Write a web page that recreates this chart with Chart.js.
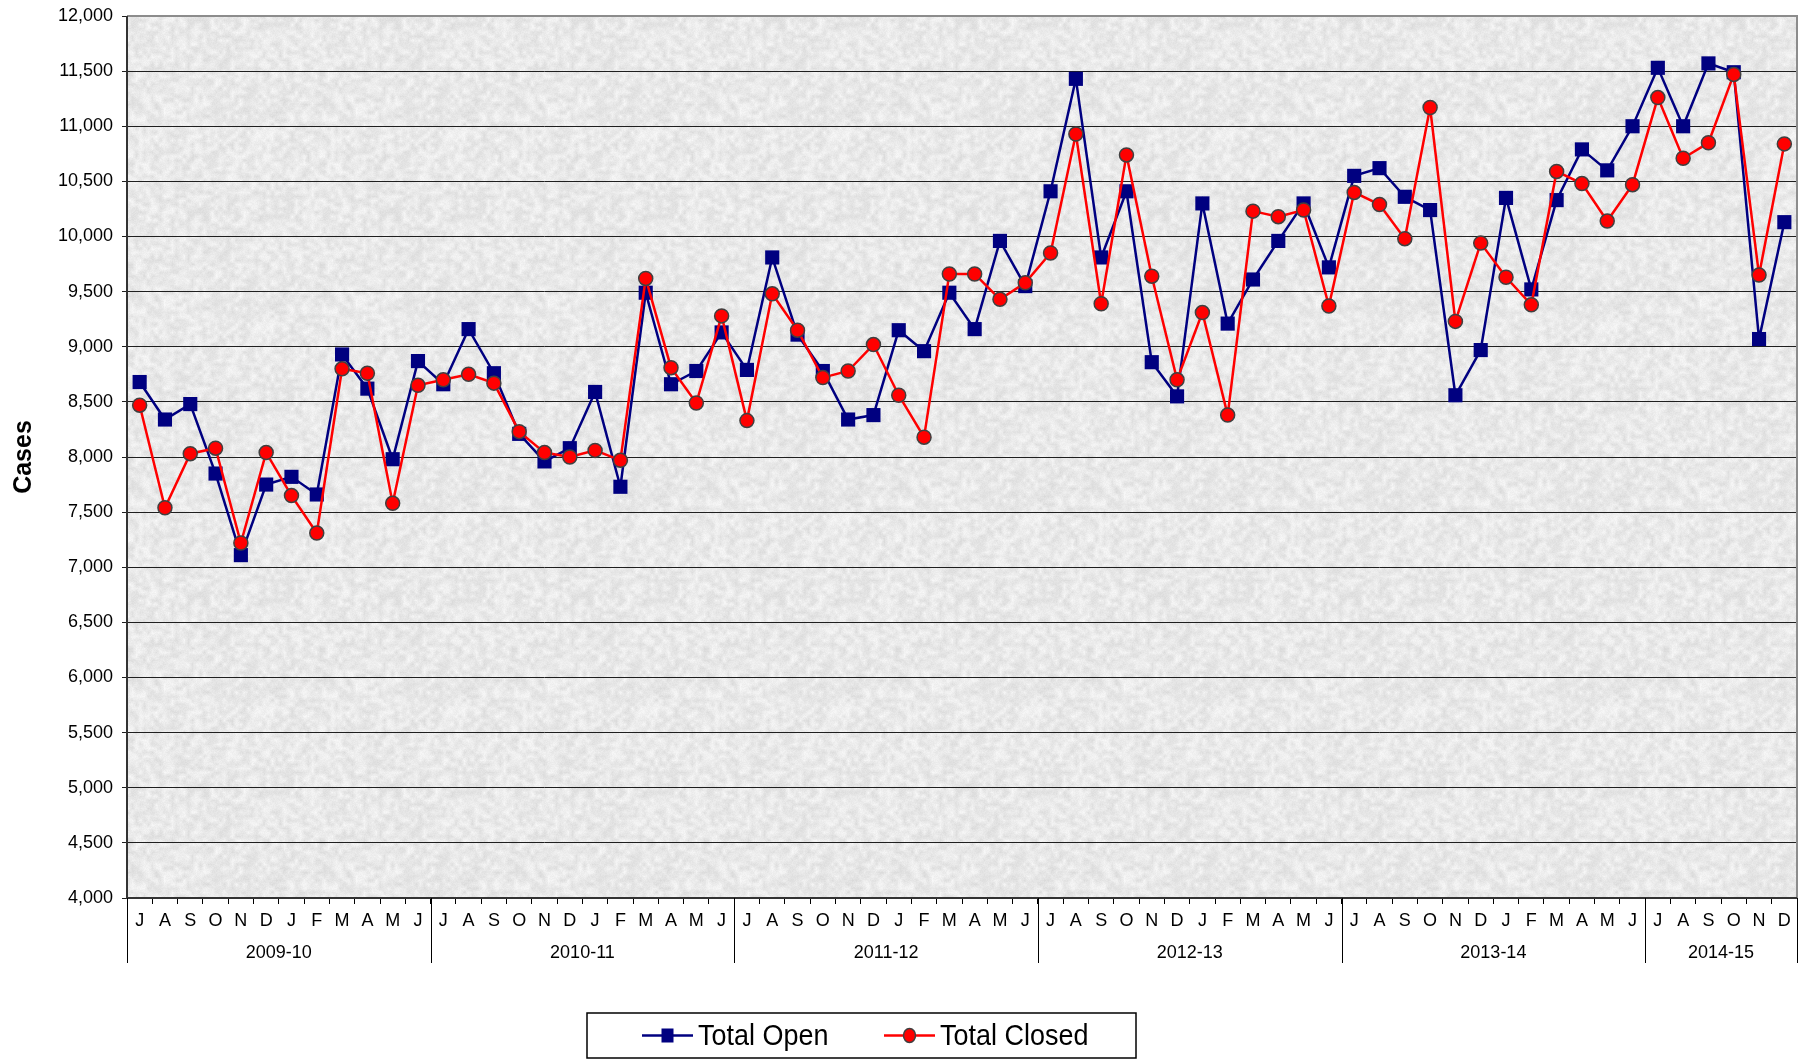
<!DOCTYPE html>
<html>
<head>
<meta charset="utf-8">
<script src="https://cdn.jsdelivr.net/npm/chart.js@4/dist/chart.umd.min.js"></script>
<style>
  html, body { margin: 0; padding: 0; background: #fff; }
  #wrap { width: 1807px; height: 1062px; }
</style>
</head>
<body>
<div id="wrap"><canvas id="chart" width="1807" height="1062"></canvas></div>
<script>
// month letters, July 2009 .. December 2014
const categories = [
  'J','A','S','O','N','D','J','F','M','A','M','J',
  'J','A','S','O','N','D','J','F','M','A','M','J',
  'J','A','S','O','N','D','J','F','M','A','M','J',
  'J','A','S','O','N','D','J','F','M','A','M','J',
  'J','A','S','O','N','D','J','F','M','A','M','J',
  'J','A','S','O','N','D'
];
const yearLabels = ['2009-10', '2010-11', '2011-12', '2012-13', '2013-14', '2014-15'];
const yearMonths = [12, 12, 12, 12, 12, 6];

const totalOpen = [
  8680, 8340, 8480, 7850, 7110, 7750, 7820, 7660, 8930, 8620, 7980, 8870,
  8660, 9160, 8760, 8210, 7960, 8080, 8590, 7730, 9490, 8660, 8780, 9130,
  8790, 9810, 9110, 8780, 8340, 8380, 9150, 8960, 9490, 9160, 9960, 9550,
  10410, 11430, 9810, 10410, 8860, 8550, 10300, 9210, 9610, 9960, 10300, 9720,
  10550, 10620, 10360, 10240, 8560, 8970, 10350, 9520, 10330, 10790, 10600, 11000,
  11530, 11000, 11570, 11490, 9070, 10130
];
const totalClosed = [
  8470, 7540, 8030, 8080, 7220, 8040, 7650, 7310, 8800, 8760, 7580, 8650,
  8700, 8750, 8670, 8230, 8040, 8000, 8060, 7970, 9620, 8810, 8490, 9280,
  8330, 9480, 9150, 8720, 8780, 9020, 8560, 8180, 9660, 9660, 9430, 9580,
  9850, 10930, 9390, 10740, 9640, 8700, 9310, 8380, 10230, 10180, 10240, 9370,
  10400, 10290, 9980, 11170, 9230, 9940, 9630, 9380, 10590, 10480, 10140, 10470,
  11260, 10710, 10850, 11470, 9650, 10840
];
const yMin = 4000;
const yMax = 12000;
const yStep = 500;

const NAVY = '#000080';
const RED = '#ff0000';
const SANS = '"Liberation Sans", Arial, sans-serif';

// grey stone-like texture for the plot background
function makeTexture() {
  const size = 192;
  const c = document.createElement('canvas');
  c.width = size; c.height = size;
  const g = c.getContext('2d');
  const img = g.createImageData(size, size);
  const hash = (x, y) => {
    let h = Math.imul(x, 374761393) + Math.imul(y, 668265263) | 0;
    h = Math.imul(h ^ (h >>> 13), 1274126177);
    h = h ^ (h >>> 16);
    return (h >>> 0) / 4294967296;
  };
  const cell = 4;
  const n = size / cell;
  const coarse = (x, y) => hash(((x % n) + n) % n, ((y % n) + n) % n);
  for (let y = 0; y < size; y++) {
    for (let x = 0; x < size; x++) {
      const gx = x / cell, gy = y / cell;
      const x0 = Math.floor(gx), y0 = Math.floor(gy);
      const fx = gx - x0, fy = gy - y0;
      const a = coarse(x0, y0), b = coarse(x0 + 1, y0);
      const c2 = coarse(x0, y0 + 1), d = coarse(x0 + 1, y0 + 1);
      const v = (a * (1 - fx) + b * fx) * (1 - fy) + (c2 * (1 - fx) + d * fx) * fy;
      const fine = hash(x + 1000, y + 2000);
      const grey = Math.round(221 + v * 24 + (fine - 0.5) * 8);
      const i = (y * size + x) * 4;
      img.data[i] = grey; img.data[i + 1] = grey; img.data[i + 2] = grey; img.data[i + 3] = 255;
    }
  }
  g.putImageData(img, 0, 0);
  return c;
}
const texture = makeTexture();

const backdrop = {
  id: 'backdrop',
  beforeDraw(chart) {
    const { ctx, chartArea: a } = chart;
    ctx.save();
    ctx.fillStyle = ctx.createPattern(texture, 'repeat');
    ctx.fillRect(a.left, a.top, a.right - a.left, a.bottom - a.top);
    ctx.restore();
  }
};

// condensed text, like the narrow face in the original
function narrowText(ctx, text, x, y, squeeze) {
  ctx.save();
  ctx.translate(x, y);
  ctx.scale(squeeze, 1);
  ctx.fillText(text, 0, 0);
  ctx.restore();
}

const extras = {
  id: 'extras',
  afterDraw(chart) {
    const { ctx, chartArea: a } = chart;
    const x = chart.scales.x;
    ctx.save();

    // plot frame
    ctx.strokeStyle = '#8c8c8c';
    ctx.lineWidth = 2;
    ctx.beginPath();
    ctx.moveTo(a.left, a.top);
    ctx.lineTo(a.right, a.top);
    ctx.lineTo(a.right, a.bottom);
    ctx.stroke();
    ctx.strokeStyle = '#333';
    ctx.lineWidth = 2;
    ctx.beginPath();
    ctx.moveTo(a.left, a.top);
    ctx.lineTo(a.left, a.bottom);
    ctx.lineTo(a.right, a.bottom);
    ctx.stroke();

    // year groups under the month letters
    const half = (x.getPixelForValue(1) - x.getPixelForValue(0)) / 2;
    let start = 0;
    ctx.fillStyle = '#000';
    ctx.font = '18px ' + SANS;
    ctx.textAlign = 'center';
    ctx.textBaseline = 'middle';
    ctx.lineWidth = 1;
    ctx.strokeStyle = '#000';
    const sep = (px) => {
      ctx.beginPath();
      ctx.moveTo(Math.round(px) + 0.5, a.bottom);
      ctx.lineTo(Math.round(px) + 0.5, a.bottom + 65);
      ctx.stroke();
    };
    sep(x.getPixelForValue(0) - half);
    yearLabels.forEach((label, i) => {
      const end = start + yearMonths[i] - 1;
      const l = x.getPixelForValue(start) - half;
      const r = x.getPixelForValue(end) + half;
      sep(r);
      ctx.fillText(label, (l + r) / 2, a.bottom + 55);
      start = end + 1;
    });

    // legend
    const box = { left: 587, top: 1013, right: 1136, bottom: 1058 };
    ctx.strokeStyle = '#000';
    ctx.lineWidth = 1.5;
    ctx.strokeRect(box.left, box.top, box.right - box.left, box.bottom - box.top);
    const cy = (box.top + box.bottom) / 2;
    ctx.font = '29px ' + SANS;
    ctx.textAlign = 'left';
    ctx.textBaseline = 'middle';

    const items = [
      { text: chart.data.datasets[0].label, color: NAVY, shape: 'rect', x0: 642 },
      { text: chart.data.datasets[1].label, color: RED, shape: 'circle', x0: 884 }
    ];
    items.forEach(it => {
      ctx.strokeStyle = it.color;
      ctx.lineWidth = 2.5;
      ctx.beginPath();
      ctx.moveTo(it.x0, cy);
      ctx.lineTo(it.x0 + 51, cy);
      ctx.stroke();
      const mx = it.x0 + 25.5;
      if (it.shape === 'rect') {
        ctx.fillStyle = NAVY;
        ctx.fillRect(mx - 6, cy - 7, 12, 14);
      } else {
        ctx.fillStyle = RED;
        ctx.strokeStyle = '#404040';
        ctx.lineWidth = 1.5;
        ctx.beginPath();
        ctx.ellipse(mx, cy, 6, 7, 0, 0, Math.PI * 2);
        ctx.fill();
        ctx.stroke();
      }
      ctx.fillStyle = '#000';
      narrowText(ctx, it.text, it.x0 + 56, cy + 1, 0.93);
    });
    ctx.restore();
  }
};

new Chart(document.getElementById('chart'), {
  type: 'line',
  data: {
    labels: categories,
    datasets: [
      {
        label: 'Total Open',
        data: totalOpen,
        borderColor: NAVY,
        backgroundColor: NAVY,
        borderWidth: 2.5,
        pointStyle: 'rect',
        pointRadius: 10,
        pointBorderColor: NAVY,
        pointBackgroundColor: NAVY,
        pointBorderWidth: 0,
        tension: 0,
        order: 2
      },
      {
        label: 'Total Closed',
        data: totalClosed,
        borderColor: RED,
        backgroundColor: RED,
        borderWidth: 2.5,
        pointStyle: 'circle',
        pointRadius: 7,
        pointBorderColor: '#404040',
        pointBackgroundColor: RED,
        pointBorderWidth: 1.5,
        tension: 0,
        order: 1
      }
    ]
  },
  options: {
    responsive: false,
    animation: false,
    devicePixelRatio: 1,
    layout: { padding: { left: 0, right: 8, top: 16, bottom: 124 } },
    plugins: {
      legend: { display: false },
      tooltip: { enabled: false }
    },
    scales: {
      x: {
        offset: true,
        afterFit: (s) => { s.height = 40; },
        grid: {
          offset: true,
          drawOnChartArea: false,
          drawTicks: true,
          tickLength: 6,
          color: '#000'
        },
        border: { display: false },
        ticks: {
          autoSkip: false,
          maxRotation: 0,
          padding: 6,
          color: '#000',
          font: { family: SANS, size: 18 }
        }
      },
      y: {
        min: yMin,
        max: yMax,
        afterFit: (s) => { s.width = 127; s.paddingTop = 0; s.paddingBottom = 0; },
        grid: {
          color: '#1f1f1f',
          lineWidth: 1,
          drawTicks: true,
          tickLength: 5
        },
        border: { display: false },
        ticks: {
          stepSize: yStep,
          padding: 9,
          color: '#000',
          font: { family: SANS, size: 18 },
          callback: (v) => v.toLocaleString('en-US')
        },
        title: {
          display: true,
          text: 'Cases',
          color: '#000',
          padding: { top: 9, bottom: 0 },
          font: { family: SANS, size: 25, weight: 'bold' }
        }
      }
    }
  },
  plugins: [backdrop, extras]
});
</script>
</body>
</html>
